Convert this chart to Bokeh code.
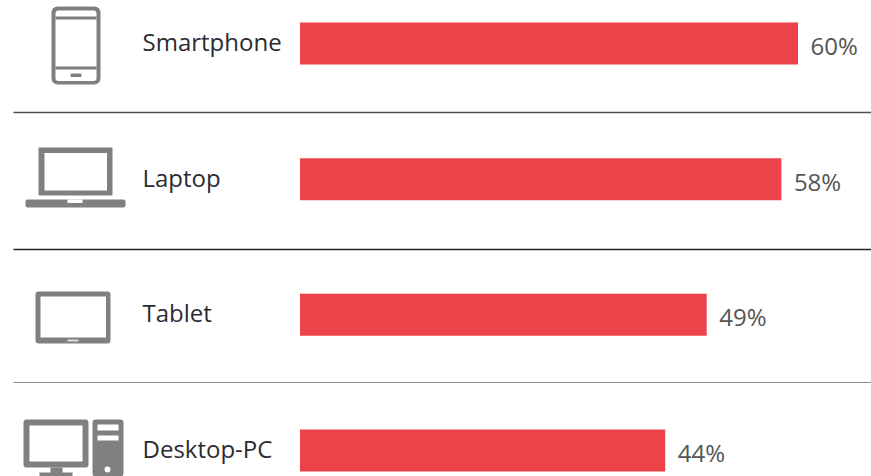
from bokeh.embed import file_html
from bokeh.resources import INLINE
from bokeh.models import Range1d, ColumnDataSource
from bokeh.plotting import figure
from bokeh.core.properties import value

categories = ["Smartphone", "Laptop", "Tablet", "Desktop-PC"]
shares = [60, 58, 49, 44]
share_labels = ["60%", "58%", "49%", "44%"]

W, H = 871, 476
ORIGIN_PX, PX_PER_PCT = 299.5, 8.3
ROW0_PX, ROW_STEP = 43.0, 135.67
GREY = "#808080"

p = figure(width=W, height=H, output_backend="svg", toolbar_location=None,
           x_range=Range1d(-ORIGIN_PX / PX_PER_PCT, (W - ORIGIN_PX) / PX_PER_PCT),
           y_range=Range1d((H - ROW0_PX) / ROW_STEP, -ROW0_PX / ROW_STEP),
           min_border=0, outline_line_color=None, background_fill_color="white",
           border_fill_color="white", x_axis_type=None, y_axis_type=None)
p.grid.visible = False
p.extra_x_ranges["px"] = Range1d(0, W)
p.extra_y_ranges["px"] = Range1d(H, 0)
PX = dict(x_range_name="px", y_range_name="px")

rows = list(range(len(categories)))
src = ColumnDataSource(dict(cat=categories, share=shares, lab=share_labels, row=rows))

# Bars through the data scales
p.hbar(y="row", left=0, right="share", height=42 / ROW_STEP, source=src,
       fill_color="#ec434b", line_color=None)

# Separators
for yy, col, lw in [(112, "#4d4d4d", 1.4), (249, "#222222", 1.3), (382, "#8c8c8c", 1.1)]:
    p.line([13, W], [yy, yy], line_color=col, line_width=lw, **PX)

# Texts
p.text(x=(142 - ORIGIN_PX) / PX_PER_PCT, y="row", text="cat", source=src, y_offset=-2,
       text_font=value("Open Sans"), text_font_size="24px", text_color="#2b2b33",
       text_baseline="middle", text_align="left")
p.text(x="share", y="row", text="lab", source=src, x_offset=12.5, y_offset=2,
       text_font=value("Open Sans"), text_font_size="24px", text_color="#555555",
       text_baseline="middle", text_align="left")


def box(l, t, r, b, color=GREY, radius=0):
    p.quad(left=[l], right=[r], top=[t], bottom=[b], fill_color=color, line_color=None,
           border_radius=radius, **PX)


# Smartphone icon
box(51, 6, 100, 84, radius=6)
box(55, 10, 96, 80.5, "white", radius=3)
box(55, 16, 96, 19)
box(55, 66, 96, 69)
box(70, 73, 81, 76.5, radius=1)

# Laptop icon
box(38, 147, 112, 195, radius=1)
box(44, 152.5, 106.5, 190, "white")
box(25, 199, 125, 207, radius=2)
box(67, 199, 82, 202.5, "white")

# Tablet icon
box(35, 291, 110, 343, radius=3)
box(40, 296, 105.5, 337, "white")
box(67, 339, 78, 341, "#dddddd")

# Desktop icon
box(23, 419, 88, 467, radius=3)
box(29, 425, 82, 461, "white")
box(50, 467, 62, 474)
box(39, 472, 72, 476)
box(92, 419, 123, 476, radius=3)
box(97, 424, 118, 430, "white")
box(97, 435, 118, 440, "white")
p.circle(x=[107], y=[469], radius=3, fill_color="white", line_color=None, **PX)

open("out.html", "w").write(file_html(p, INLINE))
